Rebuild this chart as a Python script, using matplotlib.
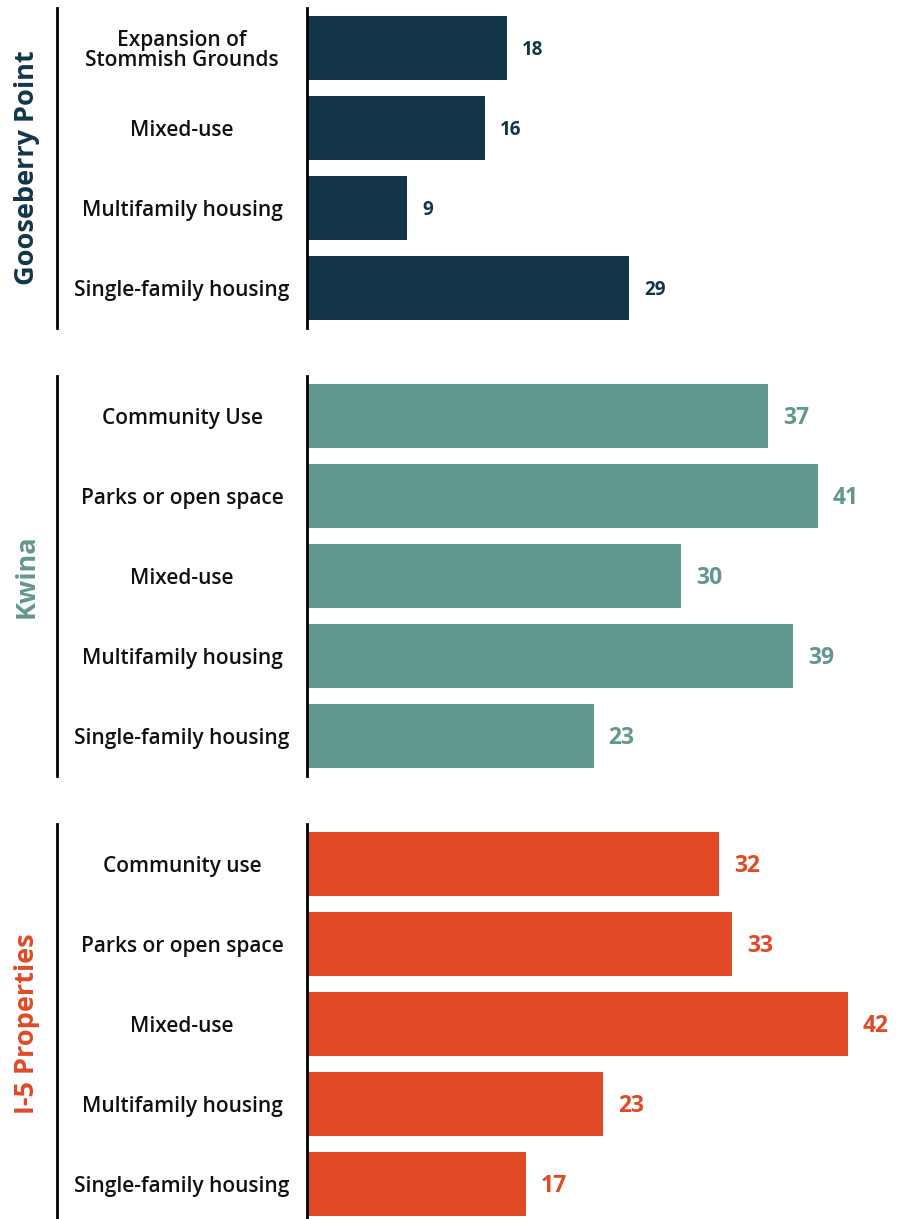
import matplotlib
matplotlib.use("Agg")
import matplotlib.pyplot as plt

# Data
groups = ["Gooseberry Point", "Kwina", "I-5 Properties"]
gp_cats = ["Expansion of\nStommish Grounds", "Mixed-use", "Multifamily housing", "Single-family housing"]
gp_vals = [18, 16, 9, 29]
kw_cats = ["Community Use", "Parks or open space", "Mixed-use", "Multifamily housing", "Single-family housing"]
kw_vals = [37, 41, 30, 39, 23]
i5_cats = ["Community use", "Parks or open space", "Mixed-use", "Multifamily housing", "Single-family housing"]
i5_vals = [32, 33, 42, 23, 17]

colors = ["#12354A", "#62978F", "#E04A27"]
xmaxes = [53.1, 47.35, 45.8]
val_sizes = [13.5, 16.5, 16.5]

W, H = 897, 1219
fig = plt.figure(figsize=(W / 100, H / 100), dpi=100)
fig.patch.set_facecolor("white")

font = "Open Sans"
panels = [(gp_cats, gp_vals, 8, 328), (kw_cats, kw_vals, 376, 776), (i5_cats, i5_vals, 824, 1224)]

ax_left, ax_right = 307, 897
for i, (cats, vals, top, bot) in enumerate(panels):
    ax = fig.add_axes([ax_left / W, 1 - bot / H, (ax_right - ax_left) / W, (bot - top) / H])
    n = len(cats)
    ys = list(range(n))
    ax.barh(ys, vals, height=0.8, color=colors[i], left=0)
    ax.set_ylim(n - 0.5, -0.5)
    ax.set_xlim(0, xmaxes[i])
    for s in ["top", "right", "bottom"]:
        ax.spines[s].set_visible(False)
    ax.spines["left"].set_linewidth(2)
    ax.spines["left"].set_color("black")
    ax.set_xticks([])
    ax.set_yticks(ys)
    ax.set_yticklabels([])
    ax.tick_params(axis="y", length=0)
    px = xmaxes[i] / (ax_right - ax_left)
    for y, v, c in zip(ys, vals, cats):
        ax.text(v + 15 * px, y + 0.02, str(v), va="center", ha="left", fontsize=val_sizes[i],
                fontweight="bold", color=colors[i], family=font)
        ax.text(-125 * px, y + 0.03, c, va="center", ha="center", fontsize=15, fontweight="semibold",
                color="#111111", family=font, linespacing=0.9, clip_on=False)
    # left group line
    ax.plot([-250 * px, -250 * px], [-0.5, n - 0.5], color="black", lw=2, clip_on=False)
    ax.text(-280 * px, (n - 1) / 2, groups[i], rotation=90, va="center", ha="center",
            fontsize=19.5, fontweight="bold", color=colors[i], family=font, clip_on=False)

fig.savefig("out.png", dpi=100, facecolor="white")
